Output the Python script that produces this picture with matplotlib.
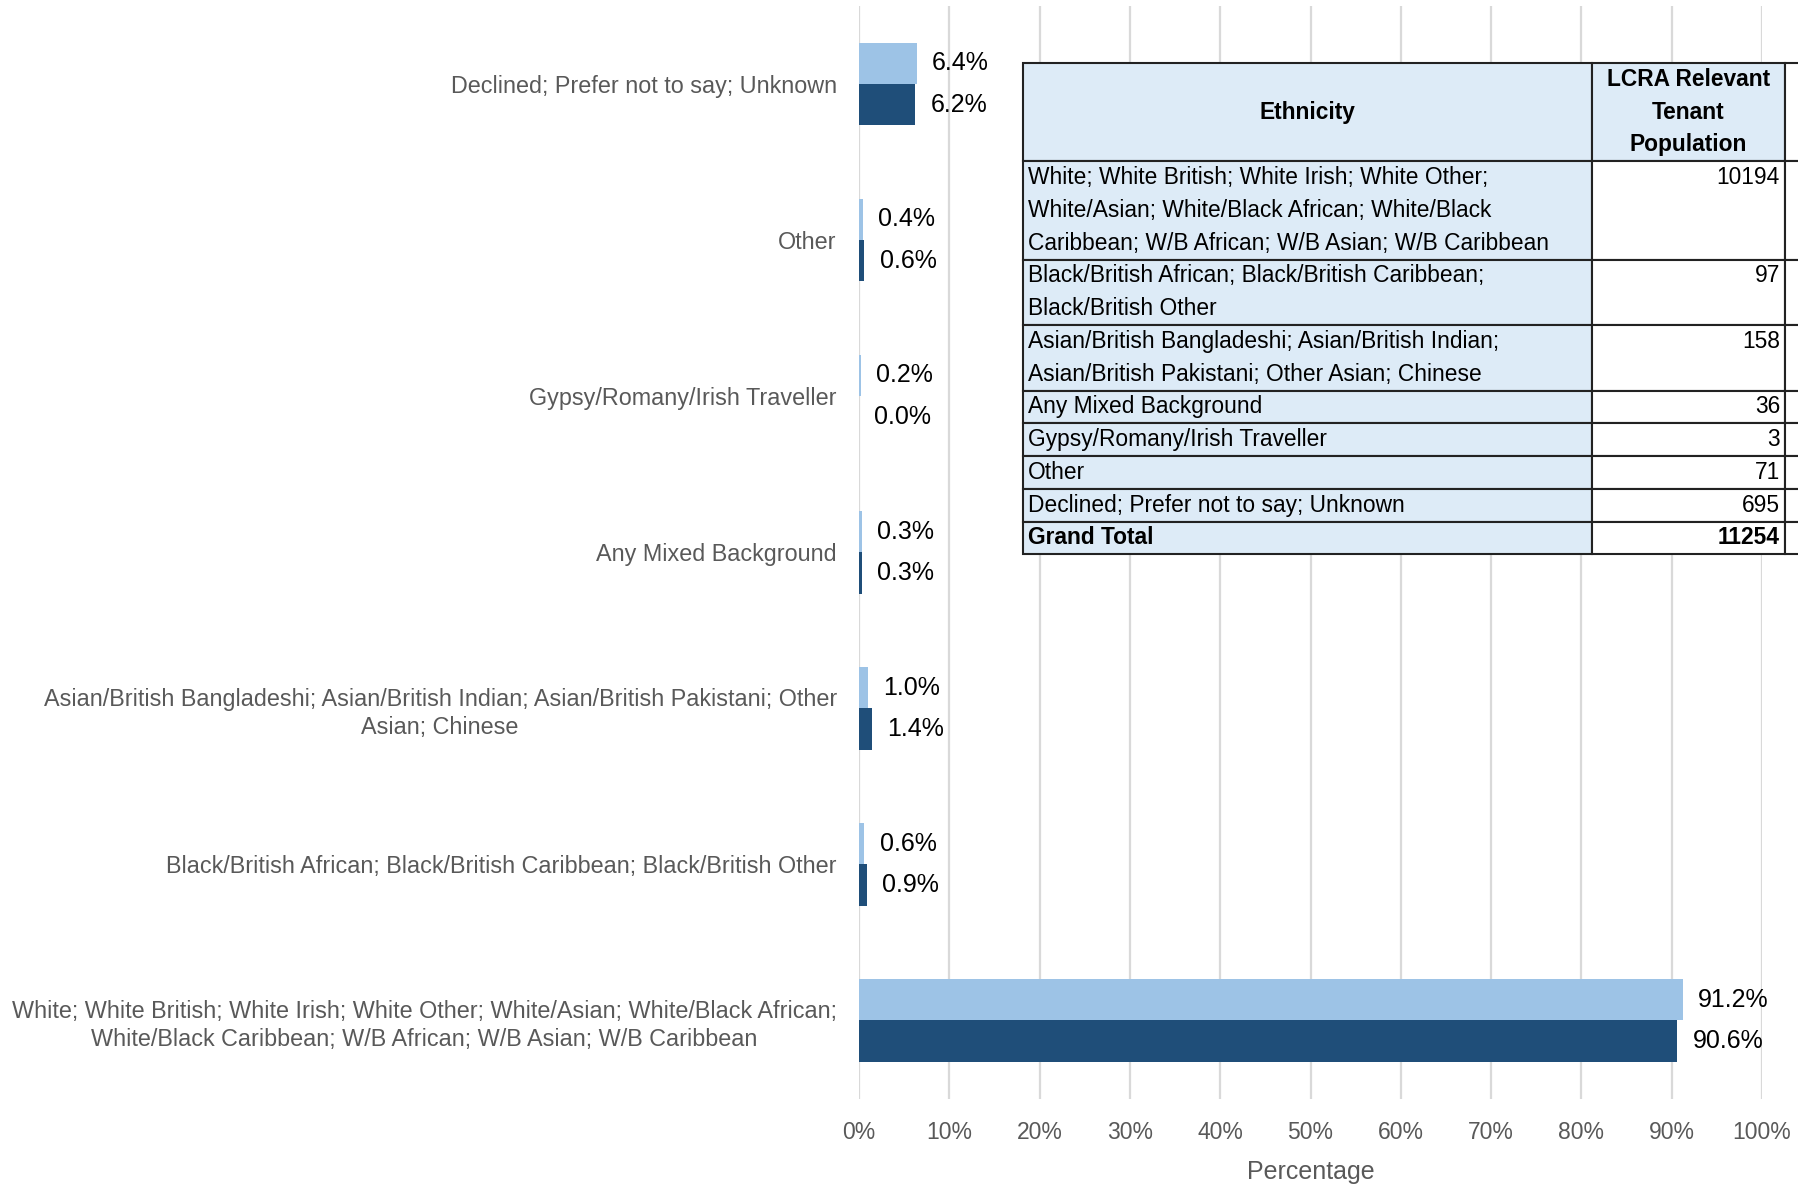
import matplotlib
matplotlib.use('Agg')
import matplotlib.pyplot as plt
from matplotlib.patches import Rectangle

# categories, bottom to top
categories = [
    'White; White British; White Irish; White Other; White/Asian; White/Black African;\nWhite/Black Caribbean; W/B African; W/B Asian; W/B Caribbean',
    'Black/British African; Black/British Caribbean; Black/British Other',
    'Asian/British Bangladeshi; Asian/British Indian; Asian/British Pakistani; Other\nAsian; Chinese',
    'Any Mixed Background',
    'Gypsy/Romany/Irish Traveller',
    'Other',
    'Declined; Prefer not to say; Unknown',
]
light_vals = [91.2, 0.6, 1.0, 0.3, 0.2, 0.4, 6.4]
dark_vals = [90.6, 0.9, 1.4, 0.3, 0.0, 0.6, 6.2]

# table on the right
table_header = ['Ethnicity', 'LCRA Relevant\nTenant\nPopulation']
table_labels = [
    'White; White British; White Irish; White Other;\nWhite/Asian; White/Black African; White/Black\nCaribbean; W/B African; W/B Asian; W/B Caribbean',
    'Black/British African; Black/British Caribbean;\nBlack/British Other',
    'Asian/British Bangladeshi; Asian/British Indian;\nAsian/British Pakistani; Other Asian; Chinese',
    'Any Mixed Background',
    'Gypsy/Romany/Irish Traveller',
    'Other',
    'Declined; Prefer not to say; Unknown',
]
table_counts = [10194, 97, 158, 36, 3, 71, 695]
total_label = 'Grand Total'
total_count = 11254

LIGHT = '#9DC3E6'
DARK = '#1F4E79'
GREY = '#595959'
CELL = '#DDEBF7'
fam = ['Liberation Sans', 'DejaVu Sans']

W, H = 1798, 1184
fig = plt.figure(figsize=(W / 100, H / 100), dpi=100)
ax = fig.add_axes([859 / W, 1 - 1098.5 / H, (1762 - 859) / W, (1098.5 - 6) / H])

y = list(range(len(categories)))
h = 0.265
b1 = ax.barh([v + h / 2 for v in y], light_vals, height=h, color=LIGHT, zorder=2)
b2 = ax.barh([v - h / 2 for v in y], dark_vals, height=h, color=DARK, zorder=2)
for bars, vals in [(b1, light_vals), (b2, dark_vals)]:
    ax.bar_label(bars, labels=[f'{v:.1f}%' for v in vals], padding=11, fontsize=18,
                 family=fam, color='black')

ax.set_xlim(0, 100)
ax.set_ylim(-0.5, len(categories) - 0.5)
ax.set_xticks(range(0, 101, 10))
ax.set_xticklabels([f'{t}%' for t in range(0, 101, 10)], family=fam, fontsize=16.5, color=GREY)
ax.set_yticks(y)
ax.set_yticklabels(categories, family=fam, fontsize=16.8, color=GREY, linespacing=1.3)
for lab in ax.get_yticklabels():
    lab.set_multialignment('center')
ax.tick_params(length=0)
ax.tick_params(axis='x', pad=16)
ax.tick_params(axis='y', pad=16)
ax.set_xlabel('Percentage', family=fam, fontsize=18, color=GREY, labelpad=12)
ax.grid(axis='x', color='#D9D9D9', linewidth=1.6, zorder=0)
ax.set_axisbelow(True)
for s in ax.spines.values():
    s.set_visible(False)

# table overlay, in figure pixels
tax = fig.add_axes([0, 0, 1, 1], zorder=5)
tax.set_xlim(0, W)
tax.set_ylim(H, 0)
tax.axis('off')
x0, x1, x2, x3 = 1023, 1592, 1785, W + 5
top = 63
lh = 32.75
fs = 16.4
rows = [(table_header[0], table_header[1], True, True)]
for lab, cnt in zip(table_labels, table_counts):
    rows.append((lab, str(cnt), False, False))
rows.append((total_label, str(total_count), True, False))

yy = top
for lab, val, bold, header in rows:
    n = max(lab.count('\n'), val.count('\n')) + 1
    rh = n * lh
    tax.add_patch(Rectangle((x0, yy), x1 - x0, rh, facecolor=CELL, edgecolor='#222222', lw=1.5))
    tax.add_patch(Rectangle((x1, yy), x2 - x1, rh, facecolor=CELL if header else 'white',
                            edgecolor='#222222', lw=1.5))
    tax.add_patch(Rectangle((x2, yy), x3 - x2, rh, facecolor='white', edgecolor='#222222', lw=1.5))
    wt = 'bold' if bold else 'normal'
    if header:
        tax.text((x0 + x1) / 2, yy + rh / 2, lab, ha='center', va='center', fontsize=fs,
                 family=fam, weight=wt)
        for i, line in enumerate(val.split('\n')):
            tax.text((x1 + x2) / 2, yy + (i + 0.5) * lh, line, ha='center', va='center',
                     fontsize=fs, family=fam, weight=wt)
    else:
        for i, line in enumerate(lab.split('\n')):
            tax.text(x0 + 5, yy + (i + 0.5) * lh, line, ha='left', va='center', fontsize=fs,
                     family=fam, weight=wt)
        tax.text(x2 - 5, yy + 0.5 * lh, val, ha='right', va='center', fontsize=fs,
                 family=fam, weight=wt)
    yy += rh

fig.savefig('out.png', dpi=100)
